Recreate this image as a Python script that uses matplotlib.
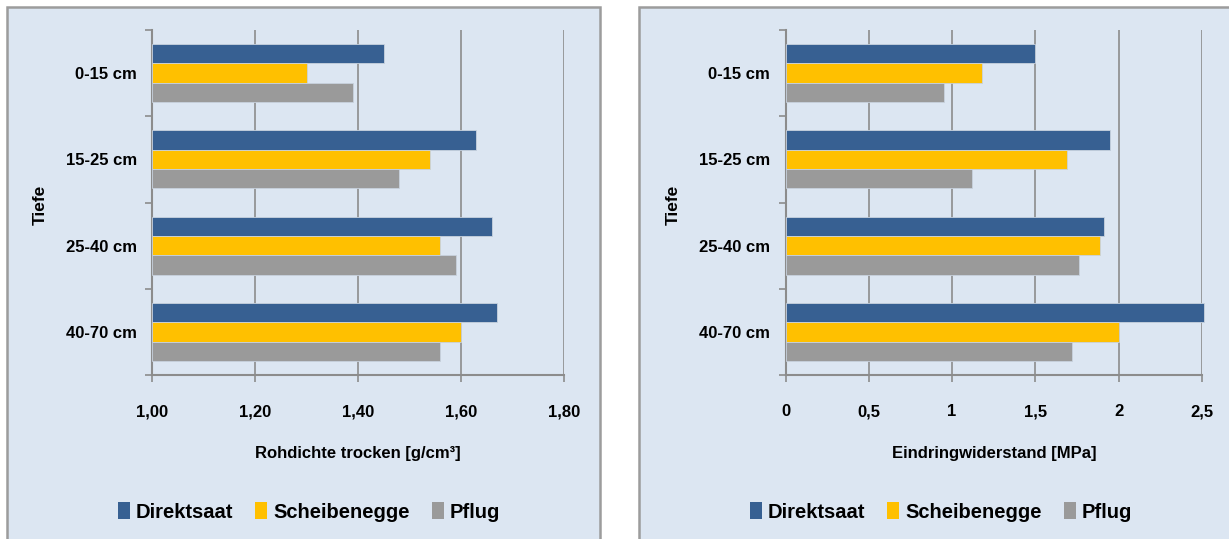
import numpy as np
import matplotlib
matplotlib.use('Agg')
import matplotlib.pyplot as plt
from matplotlib.patches import Rectangle, Patch

# data
depths = ['0-15 cm', '15-25 cm', '25-40 cm', '40-70 cm']
series = ['Direktsaat', 'Scheibenegge', 'Pflug']
colors = ['#376092', '#FFC000', '#9A9A9A']

rohdichte = {
    'Direktsaat':   [1.45, 1.63, 1.66, 1.67],
    'Scheibenegge': [1.30, 1.54, 1.56, 1.60],
    'Pflug':        [1.39, 1.48, 1.59, 1.56],
}
eindring = {
    'Direktsaat':   [1.50, 1.95, 1.91, 2.51],
    'Scheibenegge': [1.18, 1.69, 1.89, 2.00],
    'Pflug':        [0.95, 1.12, 1.76, 1.72],
}

rohdichte_ticks = [1.0, 1.2, 1.4, 1.6, 1.8]
rohdichte_ticklabels = ['1,00', '1,20', '1,40', '1,60', '1,80']
eindring_ticks = [0, 0.5, 1, 1.5, 2, 2.5]
eindring_ticklabels = ['0', '0,5', '1', '1,5', '2', '2,5']

bg = '#DCE6F2'
grid_col = '#8C8C8C'
font = ['Liberation Sans Narrow', 'Liberation Sans', 'DejaVu Sans']
plt.rcParams['font.family'] = font
plt.rcParams['font.weight'] = 'bold'

W, H = 1229, 539
fig = plt.figure(figsize=(W / 100, H / 100), dpi=100)
fig.patch.set_facecolor('white')

# panel backgrounds (behind the axes)
for x0, x1 in [(7, 600), (639, 1240)]:
    fig.patches.append(Rectangle((x0 / W, -0.05), (x1 - x0) / W, (H - 7) / H + 0.05,
                                 transform=fig.transFigure, facecolor=bg,
                                 edgecolor='#9C9C9C', linewidth=1.8, zorder=-10))


def draw_panel(left_px, right_px, data, xmin, xmax, ticks, ticklabels, xlabel, ylabel_x, legend_x):
    ax = fig.add_axes([left_px / W, (H - 375) / H, (right_px - left_px) / W, 345 / H])
    ax.patch.set_alpha(0)
    y = np.arange(len(depths))
    h = 0.225
    for i, s in enumerate(series):
        vals = np.array(data[s])
        bars = ax.barh(y + (i - 1) * h, vals - xmin, left=xmin, height=h, color=colors[i],
                       edgecolor='#C8D2DE', linewidth=0.6, zorder=3, label=s)
        for b in bars:
            b.set_clip_on(False)
    ax.set_xlim(xmin, xmax)
    ax.set_ylim(len(depths) - 0.5, -0.5)
    ax.set_xticks(ticks)
    ax.set_xticklabels(ticklabels, fontsize=12, fontweight='bold')
    ax.set_yticks(y)
    ax.set_yticklabels(depths, fontsize=12, fontweight='bold')
    ax.set_yticks(np.arange(len(depths) + 1) - 0.5, minor=True)
    ax.tick_params(axis='y', which='major', length=0, pad=11)
    ax.tick_params(axis='y', which='minor', length=5, color=grid_col, width=1.2)
    ax.tick_params(axis='x', length=5, color=grid_col, width=1.2, pad=16)
    ax.grid(axis='x', color=grid_col, linewidth=1.2, zorder=0)
    ax.set_axisbelow(True)
    for side in ['top', 'right']:
        ax.spines[side].set_visible(False)
    for side in ['left', 'bottom']:
        ax.spines[side].set_color(grid_col)
        ax.spines[side].set_linewidth(1.5)
    ax.set_xlabel(xlabel, fontsize=12, fontweight='bold', labelpad=19)
    fig.text(ylabel_x / W, (H - 205) / H, 'Tiefe', rotation=90, fontsize=12.5,
             fontweight='bold', ha='center', va='center')
    handles = [Patch(facecolor=c, edgecolor='none') for c in colors]
    fig.legend(handles, series, loc='center', bbox_to_anchor=(legend_x / W, (H - 512) / H),
               ncol=3, frameon=False, prop={'size': 14.5, 'weight': 'bold', 'family': font},
               handlelength=0.6, handleheight=0.9, handletextpad=0.3, columnspacing=1.1)
    return ax


draw_panel(152, 564, rohdichte, 1.0, 1.8, rohdichte_ticks, rohdichte_ticklabels,
           'Rohdichte trocken [g/cm³]', 40, 309)
draw_panel(785.5, 1202, eindring, 0, 2.5, eindring_ticks, eindring_ticklabels,
           'Eindringwiderstand [MPa]', 673, 941)

fig.savefig('out.png', dpi=100, facecolor='white')
